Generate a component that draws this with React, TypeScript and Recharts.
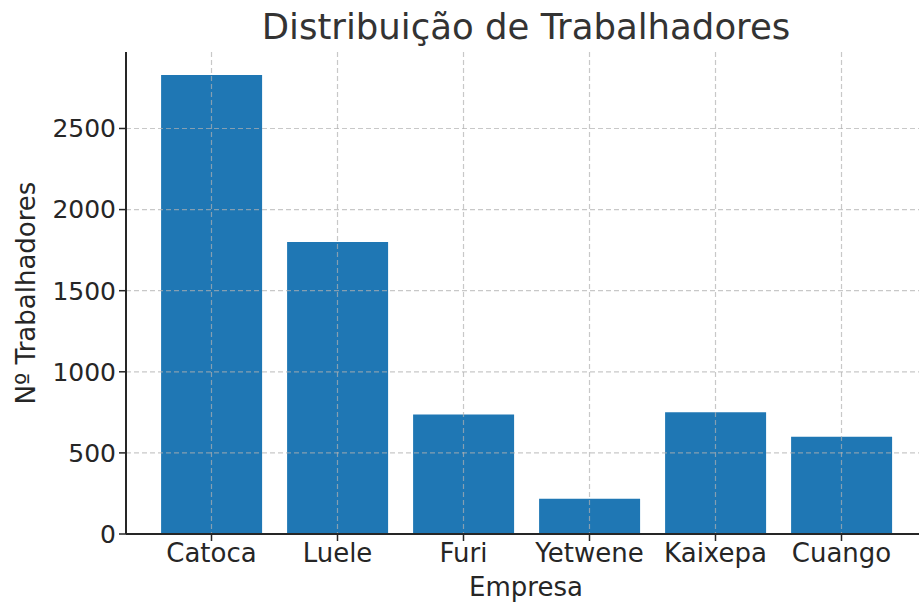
import { Bar, BarChart, CartesianGrid, XAxis, YAxis } from 'recharts';

const empresas = ['Catoca', 'Luele', 'Furi', 'Yetwene', 'Kaixepa', 'Cuango'];
const trabalhadores = [2830, 1800, 737, 217, 750, 600];
const yTicks = [0, 500, 1000, 1500, 2000, 2500];

const data = empresas.map((empresa, i) => ({
  empresa,
  trabalhadores: trabalhadores[i],
}));

const TEXT = '#262626';
const FONT = '"DejaVu Sans", sans-serif';
const yMax = Math.max(...trabalhadores) * 1.05;

// grid only at the y ticks (no line at the top edge)
const gridRows = ({ yAxis, offset }: any) => {
  const s = yAxis?.scale;
  return yTicks.map((t) => {
    if (typeof s === 'function') return s(t);
    if (s && typeof s.map === 'function') return s.map(t);
    return offset.top + offset.height * (1 - t / yMax);
  });
};

export default function App() {
  return (
    <div
      style={{
        position: 'absolute',
        left: 0,
        top: 0,
        width: 919,
        height: 605,
        overflow: 'hidden',
        background: '#fff',
        fontFamily: FONT,
      }}
    >
      <BarChart
        width={927}
        height={605}
        data={data}
        margin={{ top: 52, right: 0, bottom: 0, left: 0 }}
        barCategoryGap="10%"
      >
        <XAxis
          dataKey="empresa"
          height={71}
          padding={{ left: 22.5, right: 22.5 }}
          tickSize={7}
          tickMargin={3}
          axisLine={{ stroke: TEXT, strokeWidth: 2 }}
          tickLine={{ stroke: TEXT, strokeWidth: 1.5 }}
          tick={{ fontSize: 26, fill: TEXT, fontFamily: FONT }}
          interval={0}
          zIndex={1100}
        />
        <YAxis
          width={126}
          domain={[0, yMax]}
          ticks={yTicks}
          tickSize={7}
          tickMargin={3}
          axisLine={{ stroke: TEXT, strokeWidth: 2 }}
          tickLine={{ stroke: TEXT, strokeWidth: 1.5 }}
          tick={{ fontSize: 25, fill: TEXT, fontFamily: FONT }}
          zIndex={1100}
        />
        <Bar
          dataKey="trabalhadores"
          fill="#1f77b4"
          isAnimationActive={false}
        />
        <CartesianGrid
          stroke="#b0b0b0"
          strokeOpacity={0.7}
          strokeDasharray="5 3"
          strokeWidth={1.2}
          horizontalCoordinatesGenerator={gridRows}
          zIndex={1000}
        />
      </BarChart>
      <svg
        width={919}
        height={605}
        style={{ position: 'absolute', left: 0, top: 0, pointerEvents: 'none' }}
      >
        <text
          x={526}
          y={39}
          textAnchor="middle"
          fontSize={35.5}
          fill="#333"
          fontFamily={FONT}
        >
          Distribuição de Trabalhadores
        </text>
        <text
          x={526}
          y={596}
          textAnchor="middle"
          fontSize={26}
          fill={TEXT}
          fontFamily={FONT}
        >
          Empresa
        </text>
        <text
          x={35}
          y={293}
          textAnchor="middle"
          fontSize={26}
          fill={TEXT}
          fontFamily={FONT}
          transform="rotate(-90 35 293)"
        >
          Nº Trabalhadores
        </text>
      </svg>
    </div>
  );
}
